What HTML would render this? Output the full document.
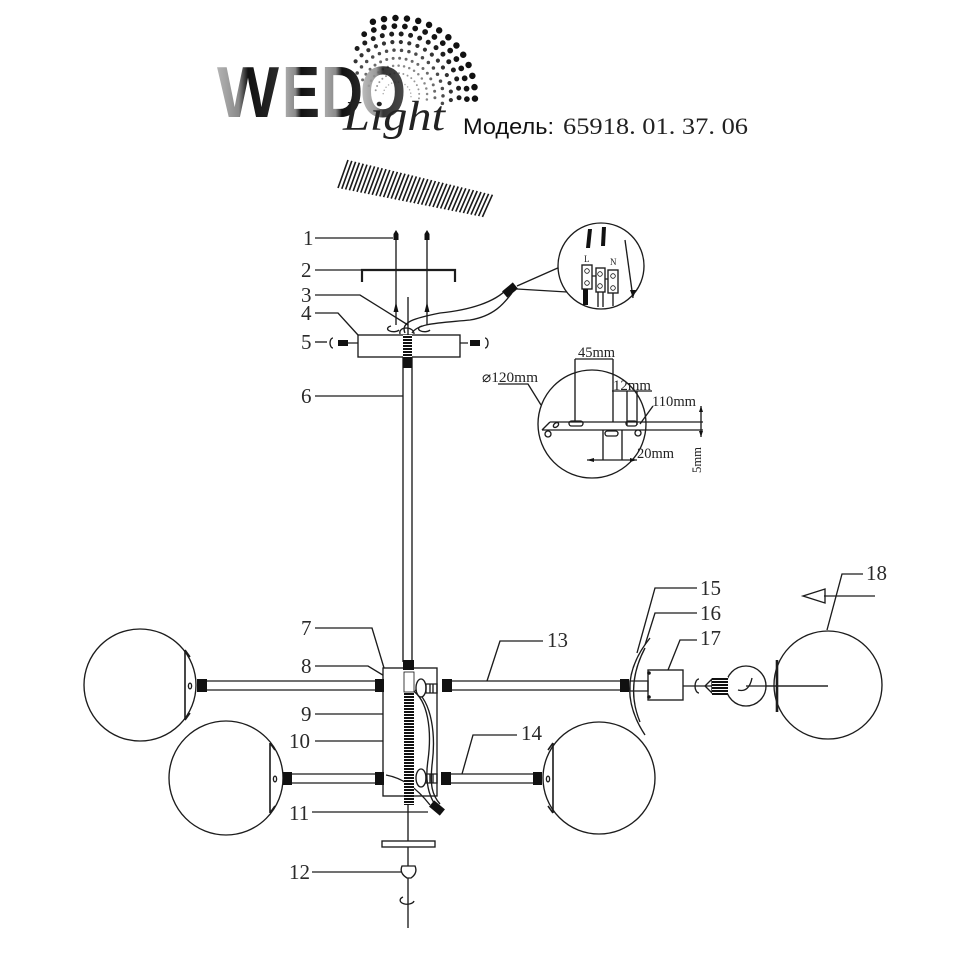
<!DOCTYPE html>
<html><head><meta charset="utf-8"><style>
html,body{margin:0;padding:0;background:#fff;}
svg{display:block;}
.l{font-family:"Liberation Serif",serif;font-size:21px;fill:#2a2a2a;}
.d{font-family:"Liberation Serif",serif;font-size:15px;fill:#222;}
</style></head><body>
<svg width="970" height="970" viewBox="0 0 970 970" xmlns="http://www.w3.org/2000/svg">
<defs>
<linearGradient id="g" x1="0" y1="0" x2="1" y2="0">
<stop offset="0" stop-color="#b4b4b4"/><stop offset="0.35" stop-color="#8a8a8a"/><stop offset="0.5" stop-color="#111"/><stop offset="1" stop-color="#2a2a2a"/>
</linearGradient>
<pattern id="thr" width="4" height="3" patternUnits="userSpaceOnUse"><rect width="4" height="3" fill="#fff"/><rect width="4" height="2" fill="#111"/></pattern>
</defs>

<!-- swirl dots -->
<g fill="none" stroke-linecap="round">
<path d="M383.2 93.6 A14 14 0 0 1 410.8 98.4" stroke="#aaa" stroke-width="1.5" stroke-dasharray="0 3.5"/>
<path d="M375.7 90.3 A22 22 0 0 1 418.7 99.8" stroke="#999" stroke-width="2" stroke-dasharray="0 4.5"/>
<path d="M368.8 85.7 A30 30 0 0 1 426.6 101.2" stroke="#888" stroke-width="2.5" stroke-dasharray="0 5.5"/>
<path d="M362.6 79.9 A38 38 0 0 1 434.4 102.6" stroke="#6a6a6a" stroke-width="3" stroke-dasharray="0 6.5"/>
<path d="M357.2 73 A46 46 0 0 1 442.3 104" stroke="#4a4a4a" stroke-width="3.5" stroke-dasharray="0 7.5"/>
<path d="M355.6 61.3 A54 54 0 0 1 450.2 105.4" stroke="#333" stroke-width="4.2" stroke-dasharray="0 8.5"/>
<path d="M357.1 48.5 A62 62 0 0 1 458.1 106.8" stroke="#1e1e1e" stroke-width="5" stroke-dasharray="0 9.5"/>
<path d="M364.2 34.2 A70 70 0 0 1 465.9 108.2" stroke="#141414" stroke-width="5.8" stroke-dasharray="0 10.5"/>
<path d="M372.9 21.8 A78 78 0 0 1 473.8 109.6" stroke="#111" stroke-width="6.5" stroke-dasharray="0 11.5"/>
</g>

<!-- WEDO -->
<g font-family="Liberation Sans, sans-serif" font-weight="bold" font-size="72" fill="url(#g)">
<text x="217" y="117" textLength="62" lengthAdjust="spacingAndGlyphs">W</text>
<text x="282" y="117" textLength="38" lengthAdjust="spacingAndGlyphs">E</text>
<text x="321" y="117" textLength="42" lengthAdjust="spacingAndGlyphs">D</text>
<text x="360" y="117" textLength="46" lengthAdjust="spacingAndGlyphs" fill-opacity="0.85">O</text>
</g>
<text x="343" y="130" font-family="Liberation Serif, serif" font-style="italic" font-size="42" fill="#222" textLength="102" lengthAdjust="spacingAndGlyphs">Light</text>
<text x="463" y="134" font-family="Liberation Sans, sans-serif" font-size="22" fill="#111" textLength="91" lengthAdjust="spacingAndGlyphs">Модель:</text>
<text x="563" y="134" font-family="Liberation Serif, serif" font-size="23" fill="#222" textLength="185" lengthAdjust="spacingAndGlyphs">65918. 01. 37. 06</text>

<!-- hatched band -->
<path stroke="#1a1a1a" stroke-width="1.6" fill="none" d="M338 188L348 160M341.8 188.8L351.8 160.9M345.6 189.5L355.6 161.8M349.4 190.3L359.4 162.7M353.2 191L363.2 163.7M357 191.8L367 164.6M360.8 192.6L370.8 165.5M364.6 193.3L374.6 166.4M368.4 194.1L378.4 167.3M372.2 194.8L382.2 168.2M376 195.6L386 169.1M379.8 196.4L389.8 170M383.6 197.1L393.6 171M387.4 197.9L397.4 171.9M391.2 198.6L401.2 172.8M395 199.4L405 173.7M398.8 200.2L408.8 174.6M402.6 200.9L412.6 175.5M406.4 201.7L416.4 176.4M410.2 202.4L420.2 177.4M414 203.2L424 178.3M417.8 204L427.8 179.2M421.6 204.7L431.6 180.1M425.4 205.5L435.4 181M429.2 206.2L439.2 181.9M433 207L443 182.8M436.8 207.8L446.8 183.8M440.6 208.5L450.6 184.7M444.4 209.3L454.4 185.6M448.2 210L458.2 186.5M452 210.8L462 187.4M455.8 211.6L465.8 188.3M459.6 212.3L469.6 189.2M463.4 213.1L473.4 190.1M467.2 213.8L477.2 191M471 214.6L481 192M474.8 215.4L484.8 192.9M478.6 216.1L488.6 193.8M482.4 216.9L492.4 194.7"/>

<!-- labels -->
<g class="l">
<text x="303" y="245">1</text>
<text x="301" y="277">2</text>
<text x="301" y="302">3</text>
<text x="301" y="320">4</text>
<text x="301" y="349">5</text>
<text x="301" y="403">6</text>
<text x="301" y="635">7</text>
<text x="301" y="673">8</text>
<text x="301" y="721">9</text>
<text x="289" y="748">10</text>
<text x="289" y="820">11</text>
<text x="289" y="879">12</text>
<text x="547" y="647">13</text>
<text x="521" y="740">14</text>
<text x="700" y="595">15</text>
<text x="700" y="620">16</text>
<text x="700" y="645">17</text>
<text x="866" y="580">18</text>
</g>

<g stroke="#1c1c1c" stroke-width="1.35" fill="none">
<!-- leaders -->
<path d="M315 238H393"/>
<path d="M315 270H362"/>
<path d="M315 295H360L408 325"/>
<path d="M315 313H338L358 335"/>
<path d="M315 342H327"/>
<path d="M315 396H403"/>
<path d="M315 628H372L384 668"/>
<path d="M315 666H368L404 688"/>
<path d="M315 714H383"/>
<path d="M315 741H404"/>
<path d="M312 812H428"/>
<path d="M312 872H402"/>
<path d="M543 641H500L487 681"/>
<path d="M517 735H473L462 774"/>
<path d="M697 588H655L637 653"/>
<path d="M697 613H655L645 645"/>
<path d="M697 640H680L668 670"/>
<path d="M863 574H842L827 630"/>
<path d="M875 596H824"/>
<path d="M803 596L825 589L825 603Z"/>

<!-- bracket -->
<path d="M362 282V270H455V282" stroke-width="2.2"/>
<path d="M396 240V325M427 240V325"/>
<path d="M408 297V335"/>
<path d="M391 326 A6 3 0 1 0 399 330"/>
<path d="M422 326 A6 3 0 1 0 430 330"/>
<!-- canopy -->
<rect x="358" y="335" width="102" height="22"/>
<path d="M348 343H358M460 343H468"/>
<path d="M333 338 A3 5 0 1 0 333 348"/>
<path d="M485 338 A3 5 0 1 1 485 348"/>
<!-- wires to connector -->
<path d="M405 333C400 322 415 318 440 313C470 310 495 302 507 289"/>
<path d="M412 333C418 323 440 323 470 320C495 316 505 302 512 293"/>
<path d="M400 334C398 326 414 326 414 334"/>
<path d="M517 286L560 267M517 289L567 292"/>
<!-- inset 1 -->
<circle cx="601" cy="266" r="43" fill="#fff"/>
<rect x="582" y="265" width="10" height="24" fill="#fff"/>
<rect x="596" y="268" width="9" height="24" fill="#fff"/>
<rect x="608" y="270" width="10" height="23" fill="#fff"/>
<path d="M592 276H596M605 279H608"/>
<path d="M598 292V307M603 292V307M613 293V306"/>
<path d="M625 240L633 298"/>
<!-- pipe -->
<path d="M403 357V662M412 357V662"/>
<!-- inset 2 -->
<circle cx="592" cy="424" r="54"/>
<path d="M575 359H613M575 359V422M613 359V422"/>
<path d="M498 384H528L541 405"/>
<path d="M612 391H652M627 391V425M637 391V425"/>
<path d="M653 406L640 424"/>
<path d="M550 422H703M542 430H703M542 430L550 422"/>
<rect x="569" y="421" width="14" height="5" rx="2.5"/>
<rect x="605" y="431" width="13" height="5" rx="2.5"/>
<rect x="626" y="421" width="11" height="5" rx="2.5"/>
<ellipse cx="556" cy="425" rx="3" ry="2" transform="rotate(-40 556 425)"/>
<circle cx="548" cy="434" r="3"/>
<circle cx="638" cy="433" r="3"/>
<path d="M603 430V460M622 430V460M587 460H637"/>
<path d="M701 406V437"/>
<!-- body -->
<rect x="383" y="668" width="54" height="128" fill="#fff"/>
<!-- arms -->
<path d="M207 681H375M207 690H375"/>
<path d="M452 681H620M452 690H620"/>
<path d="M292 774H375M292 783H375"/>
<path d="M450 774H533M450 783H533"/>
<!-- wires inside body -->
<path d="M412 690C428 700 432 730 428 760C425 780 428 795 436 806"/>
<path d="M415 690C432 702 436 735 432 765C430 785 432 795 440 804"/>
<path d="M386 775C402 778 416 787 430 805"/>
<ellipse cx="421" cy="688" rx="5" ry="9" fill="#fff"/>
<ellipse cx="421" cy="778" rx="5" ry="9" fill="#fff"/>
<path d="M426 684H437V693H426ZM430 684V693M433 684V693"/>
<path d="M426 774H437V783H426ZM430 774V783M433 774V783"/>
<!-- bottom -->
<path d="M408 805V928"/>
<rect x="382" y="841" width="53" height="6" fill="#fff"/>
<path d="M402 866H415Q418 873 411 878H407Q399 873 402 866Z" fill="#fff"/>
<path d="M403 897 A7 4 0 1 0 414 901"/>
<!-- globes -->
<circle cx="140" cy="685" r="56" fill="#fff"/>
<circle cx="226" cy="778" r="57" fill="#fff"/>
<circle cx="599" cy="778" r="56" fill="#fff"/>
<circle cx="828" cy="685" r="54" fill="#fff"/>
<path d="M185 650V720M185 650L190 657M185 720L190 713" stroke-width="1.6"/>
<path d="M270 743V813M270 743L275 750M270 813L275 806" stroke-width="1.6"/>
<path d="M553 743V813M553 743L548 750M553 813L548 806" stroke-width="1.6"/>
<path d="M777 660V712" stroke-width="2.6"/>
<ellipse cx="190" cy="686" rx="1.6" ry="2.8"/>
<ellipse cx="275" cy="779" rx="1.6" ry="2.8"/>
<ellipse cx="548" cy="779" rx="1.6" ry="2.8"/>
<!-- right socket -->
<path d="M650 638Q612 685 645 735"/>
<path d="M645 648Q625 686 640 722"/>
<rect x="648" y="670" width="35" height="30" fill="#fff"/>
<path d="M630 681H648V691H630Z"/>
<path d="M683 686H828"/>
<path d="M699 679 A4 7 0 1 0 699 693"/>
<path d="M705 686L712 679V693Z"/>
<circle cx="746" cy="686" r="20" fill="#fff"/>
<path d="M746 686H828M738 690C745 692 750 688 752 678"/>
</g>

<!-- filled black parts -->
<g fill="#111">
<path d="M396 230L398.5 234V240H393.5V234Z"/>
<path d="M427 230L429.5 234V240H424.5V234Z"/>
<path d="M396 302L398.5 312H393.5Z"/>
<path d="M427 302L429.5 312H424.5Z"/>
<rect x="338" y="340" width="10" height="6"/>
<rect x="470" y="340" width="10" height="6"/>
<rect x="403" y="335" width="9" height="22" fill="url(#thr)"/>
<rect x="403" y="357" width="9" height="11"/>
<g transform="translate(510,290) rotate(-40)"><rect x="-7" y="-4" width="14" height="8"/></g>
<path d="M588 229L592 229L590 248L586 248Z"/>
<path d="M602 227L606 227L605 246L601 246Z"/>
<path d="M583 289H588V305H583Z"/>
<path d="M633 298L630 290L636 290Z"/>
<path d="M701 406L699 412H703Z"/>
<path d="M701 437L699 431H703Z"/>
<path d="M587 460L594 458V462Z"/>
<path d="M637 460L630 458V462Z"/>
<rect x="403" y="660" width="11" height="10"/>
<rect x="404" y="692" width="10" height="113" fill="url(#thr)"/>
<rect x="197" y="679" width="10" height="13"/>
<rect x="375" y="679" width="9" height="13"/>
<rect x="442" y="679" width="10" height="13"/>
<rect x="620" y="679" width="9" height="13"/>
<rect x="283" y="772" width="9" height="13"/>
<rect x="375" y="772" width="9" height="13"/>
<rect x="441" y="772" width="10" height="13"/>
<rect x="533" y="772" width="9" height="13"/>
<g transform="translate(437,808) rotate(40)"><rect x="-7" y="-4" width="14" height="8"/></g>
<circle cx="649" cy="673" r="1.8"/>
<circle cx="649" cy="697" r="1.8"/>
<rect x="712" y="677" width="16" height="18" fill="url(#thr)"/>
</g>
<g fill="#fff" stroke="#111" stroke-width="0.8">
<rect x="404" y="672" width="10" height="20"/>
<circle cx="587" cy="271" r="2.3"/><circle cx="587" cy="283" r="2.3"/>
<circle cx="600" cy="274" r="2.3"/><circle cx="600" cy="286" r="2.3"/>
<circle cx="613" cy="276" r="2.3"/><circle cx="613" cy="288" r="2.3"/>
</g>
<text x="584" y="262" font-family="Liberation Serif, serif" font-size="9" fill="#222">L</text>
<text x="610" y="265" font-family="Liberation Serif, serif" font-size="9" fill="#222">N</text>

<g class="d">
<text x="578" y="357" textLength="37" lengthAdjust="spacingAndGlyphs">45mm</text>
<text x="482" y="382" textLength="56" lengthAdjust="spacingAndGlyphs">⌀120mm</text>
<text x="613" y="390" textLength="38" lengthAdjust="spacingAndGlyphs">12mm</text>
<text x="652" y="406" textLength="44" lengthAdjust="spacingAndGlyphs">110mm</text>
<text x="637" y="458" textLength="37" lengthAdjust="spacingAndGlyphs">20mm</text>
<text x="0" y="0" font-size="13" transform="translate(701,473) rotate(-90)" textLength="26" lengthAdjust="spacingAndGlyphs">5mm</text>
</g>
</svg>
</body></html>
